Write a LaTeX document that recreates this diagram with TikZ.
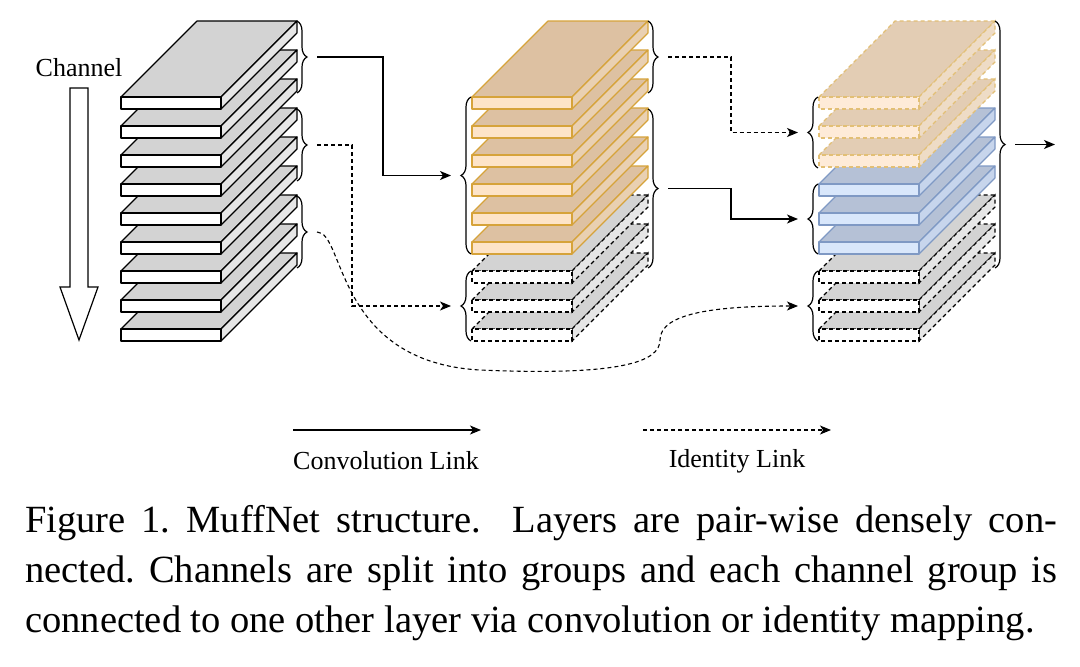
\documentclass[tikz,border=0pt]{standalone}
\usepackage{fontspec}
\setmainfont{Liberation Serif}
\usetikzlibrary{arrows.meta,decorations.pathreplacing}
\definecolor{gtop}{HTML}{D3D3D3}
\definecolor{gside}{HTML}{E6E6E6}
\definecolor{otop}{HTML}{DDC1A2}
\definecolor{ofront}{HTML}{FDE4C8}
\definecolor{oside}{HTML}{E9D0B2}
\definecolor{odraw}{HTML}{D6A33A}
\definecolor{lotop}{HTML}{E3CDB4}
\definecolor{lofront}{HTML}{FEEBD8}
\definecolor{loside}{HTML}{EEDCC6}
\definecolor{btop}{HTML}{B5C1D6}
\definecolor{bfront}{HTML}{D9E7FB}
\definecolor{bside}{HTML}{C7D5EC}
\definecolor{bdraw}{HTML}{7F99C4}
\tikzset{
  gslab/.style={draw=black,line width=1.2pt,line join=round},
  gdslab/.style={draw=black,line width=1.2pt,dashed,dash pattern=on 4pt off 3pt},
  oslab/.style={draw=odraw,line width=1.1pt,line join=round},
  odslab/.style={draw=odraw!70,line width=1.1pt,dashed,dash pattern=on 4pt off 3pt},
  bslab/.style={draw=bdraw,line width=1.1pt,line join=round},
  brc/.style={decorate,decoration={brace,amplitude=10pt,aspect=0.5},line width=1.2pt},
  conv/.style={line width=1.4pt,-{Stealth[length=11pt,width=9pt,inset=3pt]}},
  ident/.style={line width=1.1pt,dashed,dash pattern=on 4pt off 3pt,-{Stealth[length=11pt,width=9pt,inset=3pt]}},
  lbl/.style={font=\fontsize{26pt}{30pt}\selectfont,inner sep=0pt},
  captext/.style={font=\fontsize{38.5pt}{44pt}\selectfont,inner sep=0pt,anchor=base west}
}
% #1 x, #2 y, #3 style, #4 top, #5 front, #6 side
\newcommand\myslab[6]{%
  \path[#3,fill=#4] (#1,#2) -- ++(76,-76) -- ++(100,0) -- ++(-76,76) -- cycle;
  \path[#3,fill=#6] (#1+100,#2) -- ++(76,-76) -- ++(0,12) -- ++(-76,76) -- cycle;
  \path[#3,fill=#5] (#1,#2) rectangle ++(100,12);
}
\begin{document}
\frenchspacing
\begin{tikzpicture}[x=1pt,y=-1pt]
\useasboundingbox (0,0) rectangle (1080,667);
% channel arrow
\node[lbl] (chan) at (79,68) {Channel};
\draw[line width=1.2pt,fill=white] (70,88) -- (88,88) -- (88,287) -- (98,287) -- (79,340) -- (60,287) -- (70,287) -- cycle;
% stack 1
\foreach \k in {8,7,...,0} {\myslab{121}{97+29*\k}{gslab}{gtop}{white}{gside}}
% stack 2
\foreach \k in {8,7,6} {\myslab{472}{97+29*\k}{gdslab}{gtop}{white}{gside}}
\foreach \k in {5,4,...,0} {\myslab{472}{97+29*\k}{oslab}{otop}{ofront}{oside}}
% stack 3
\foreach \k in {8,7,6} {\myslab{819}{97+29*\k}{gdslab}{gtop}{white}{gside}}
\foreach \k in {5,4,3} {\myslab{819}{97+29*\k}{bslab}{btop}{bfront}{bside}}
\foreach \k in {2,1,0} {\myslab{819}{97+29*\k}{odslab}{lotop}{lofront}{loside}}
% braces stack 1
\draw[brc] (297,21) -- (297,93);
\draw[brc] (297,109) -- (297,181);
\draw[brc] (297,196) -- (297,268);
\coordinate (a1) at (317,57); \coordinate (a2) at (317,145); \coordinate (a3) at (317,232);
% braces stack 2
\draw[brc] (471,254) -- (471,97); \coordinate (b1) at (451,175.5);
\draw[brc] (471,341) -- (471,271); \coordinate (b2) at (451,306);
\draw[brc] (648,21) -- (648,93); \coordinate (c1) at (668,57);
\draw[brc] (648,109) -- (648,268); \coordinate (c2) at (668,188.5);
% braces stack 3
\draw[brc] (818,168) -- (818,97); \coordinate (d1) at (798,132.5);
\draw[brc] (818,254) -- (818,184); \coordinate (d2) at (798,219);
\draw[brc] (818,341) -- (818,271); \coordinate (d3) at (798,306);
\draw[brc] (995,21) -- (995,268); \coordinate (e1) at (1015,144.5);
\coordinate (out) at (1055,144.5);
% links
\draw[conv] (a1) -| (383,175.5) -- (b1);
\draw[ident] (a2) -| (352,306) -- (b2);
\draw[ident] (a3) .. controls (345,232) and (335,362) .. (480,370)
  .. controls (620,376) and (660,362) .. (660,340)
  .. controls (660,312) and (720,306) .. (d3);
\draw[ident] (c1) -| (731,132.5) -- (d1);
\draw[conv] (c2) -| (731,219) -- (d2);
\draw[conv] (e1) -- (out);
% legend
\coordinate (l1s) at (293,430); \coordinate (l1e) at (481,430);
\coordinate (l2s) at (643,430); \coordinate (l2e) at (831,430);
\draw[conv,line width=1.3pt] (l1s) -- (l1e);
\draw[ident] (l2s) -- (l2e);
\node[lbl] (convl) at (386,461) {Convolution Link};
\node[lbl] (idl) at (737,461) {Identity Link};
% caption
\node[captext] (cap1) at (25,532) {\makebox[1032pt][s]{Figure 1. MuffNet structure.\ \ Layers are pair-wise densely con-}};
\node[captext] (cap2) at (25,582) {\makebox[1032pt][s]{nected. Channels are split into groups and each channel group is}};
\node[captext] (cap3) at (25,632) {connected to one other layer via convolution or identity mapping.};
\end{tikzpicture}
\end{document}
